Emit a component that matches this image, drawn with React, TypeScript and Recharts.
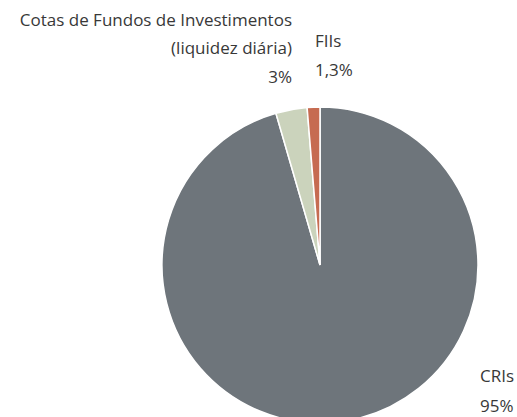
import { PieChart, Pie, Cell } from "recharts";

const categories = ["CRIs", "Cotas de Fundos de Investimentos (liquidez diária)", "FIIs"];
const shares = [95.5, 3.2, 1.3];
const shareLabels = ["95%", "3%", "1,3%"];
const colors = ["#6e757b", "#cbd3bc", "#c66b51"];

const data = categories.map((name, i) => ({ name, value: shares[i] }));

const textStyle = { fontFamily: "'Open Sans', sans-serif", fontSize: 17, fill: "#383838" };

// label blocks sit where the original placed them, relative to the pie centre
function renderLabel(props: any) {
  const { cx, cy, index } = props;
  if (index === 0) {
    return (
      <g key="l0">
        <text x={cx + 160} y={cy + 117} style={textStyle}>CRIs</text>
        <text x={cx + 160} y={cy + 147} style={textStyle}>{shareLabels[0]}</text>
      </g>
    );
  }
  if (index === 1) {
    return (
      <g key="l1">
        <text x={cx - 28} y={cy - 239} textAnchor="end" style={textStyle}>Cotas de Fundos de Investimentos</text>
        <text x={cx - 28} y={cy - 211} textAnchor="end" style={textStyle}>(liquidez diária)</text>
        <text x={cx - 28} y={cy - 182} textAnchor="end" style={textStyle}>{shareLabels[1]}</text>
      </g>
    );
  }
  return (
    <g key="l2">
      <text x={cx - 5} y={cy - 218} style={textStyle}>FIIs</text>
      <text x={cx - 5} y={cy - 189} style={textStyle}>{shareLabels[2]}</text>
    </g>
  );
}

export default function App() {
  return (
    <div style={{ position: "absolute", left: 0, top: 0, width: 517, height: 417, background: "#fff" }}>
      <PieChart width={517} height={417} margin={{ top: 0, right: 0, bottom: 0, left: 0 }}>
        <Pie
          data={data}
          dataKey="value"
          nameKey="name"
          cx={320}
          cy={265}
          outerRadius={158}
          startAngle={90}
          endAngle={-270}
          stroke="#ffffff"
          strokeWidth={1.5}
          label={renderLabel}
          labelLine={false}
          isAnimationActive={false}
        >
          {data.map((d, i) => (
            <Cell key={d.name} fill={colors[i]} />
          ))}
        </Pie>
      </PieChart>
    </div>
  );
}
